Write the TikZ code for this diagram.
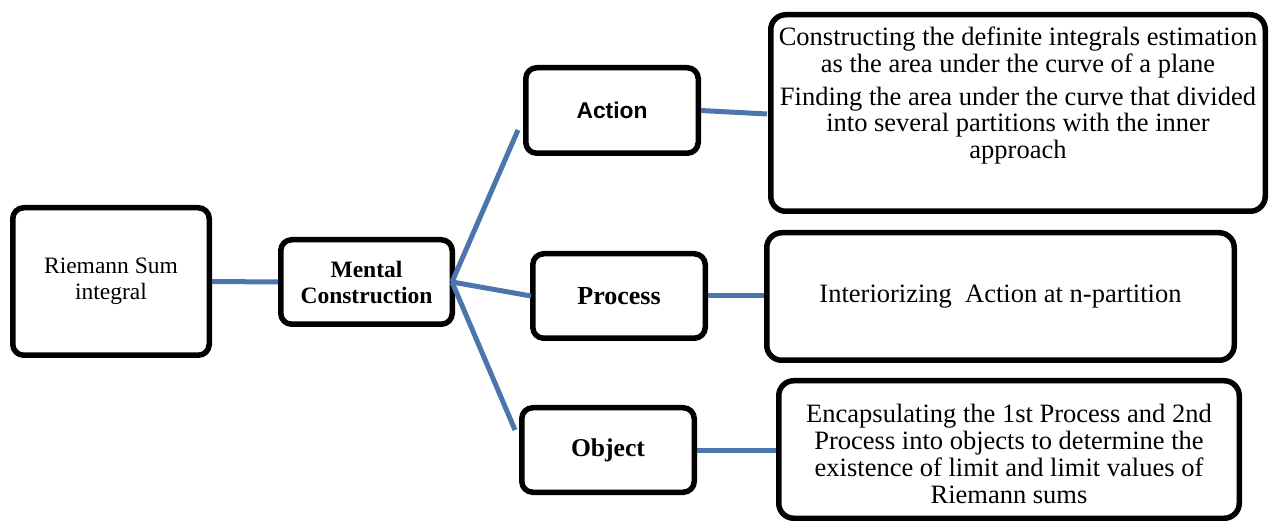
\documentclass[tikz,border=0pt]{standalone}
\usepackage{fontspec}
\setmainfont{Liberation Serif}
\newfontfamily\arialfont{Liberation Sans}
\begin{document}
\begin{tikzpicture}[x=1pt,y=-1pt,
  box/.style={draw=black, line width=5.5pt, rounded corners=11pt, fill=white, inner sep=0pt, align=center},
  bigbox/.style={box, rounded corners=15pt},
  conn/.style={draw=linkblue, line width=5pt},
  txt/.style={inner sep=0pt, align=center}]
\definecolor{linkblue}{RGB}{74,118,172}
\useasboundingbox (0,0) rectangle (1270,521);
% left boxes
\node[box, minimum width=196.5pt, minimum height=147.5pt, font=\fontsize{23.5}{26}\selectfont] (rs) at (111,281.5) {Riemann Sum\\integral};
\node[box, minimum width=171.5pt, minimum height=84.5pt, font=\fontsize{23.5}{26}\selectfont\bfseries] (mc) at (366.5,282) {Mental\\Construction};
% middle boxes
\node[box, minimum width=172.5pt, minimum height=85.5pt, font=\arialfont\fontsize{22.8}{26}\selectfont\bfseries] (act) at (612,110.5) {Action};
\node[box, minimum width=172.5pt, minimum height=84.5pt, font=\fontsize{26}{28}\selectfont\bfseries] (proc) at (619,296) {Process};
\node[box, minimum width=172.5pt, minimum height=84.5pt, font=\fontsize{25.6}{28}\selectfont\bfseries] (obj) at (608,450) {Object};
% right boxes
\node[bigbox, minimum width=494.5pt, minimum height=196.5pt] (r1) at (1018,113) {};
\node[txt, anchor=north, font=\fontsize{26.5}{26.7}\selectfont] (r1t) at (1018,27)
  {Constructing the definite integrals estimation\\as the area under the curve of a plane\\[6pt]Finding the area under the curve that divided\\into several partitions with the inner\\approach};
\node[bigbox, minimum width=467.5pt, minimum height=127.5pt, font=\fontsize{26.5}{28}\selectfont] (r2) at (1000.5,296.5) {Interiorizing\ \ Action at n-partition};
\node[bigbox, minimum width=460.5pt, minimum height=137.5pt] (r3) at (1009,449.5) {};
\node[txt, font=\fontsize{26.5}{27}\selectfont] (r3t) at (1009,454)
  {Encapsulating the 1st Process and 2nd\\Process into objects to determine the\\existence of limit and limit values of\\Riemann sums};
% free ends of connectors
\coordinate (mcx) at (452,282);
\coordinate (aend) at (518,130);
\coordinate (pend) at (531,296);
\coordinate (oend) at (515,430);
\coordinate (r1in) at (767,114);
% connectors
\draw[conn] (rs.east) -- (mc.west);
\draw[conn] (mcx) -- (aend);
\draw[conn] (mcx) -- (pend);
\draw[conn] (mcx) -- (oend);
\draw[conn] (act.east) -- (r1in);
\draw[conn] (proc.east) -- (r2.west |- proc.east);
\draw[conn] (obj.east) -- (r3.west |- obj.east);
\end{tikzpicture}
\end{document}
